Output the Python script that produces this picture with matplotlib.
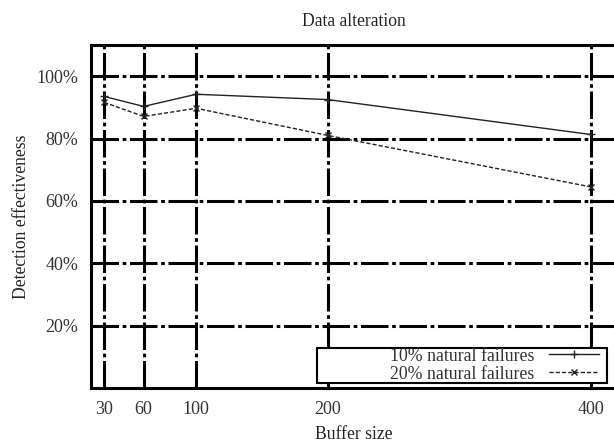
import matplotlib.pyplot as plt
from matplotlib.patches import Rectangle

plt.rcParams['font.family'] = ['Liberation Serif', 'DejaVu Serif']

buffer_size = [30, 60, 100, 200, 400]
fail_10 = [93.5, 90.3, 94.2, 92.5, 81.3]
fail_20 = [91.6, 87.1, 89.7, 81.0, 64.5]
y_ticks = [20, 40, 60, 80, 100]
y_labels = ['20%', '40%', '60%', '80%', '100%']

fig = plt.figure(figsize=(6.14, 4.44), dpi=100)
ax = fig.add_axes([91 / 614, 1 - 388 / 444, (617 - 91) / 614, (388 - 45) / 444])

grid_style = dict(color='black', linewidth=2.2, linestyle=(0, (9, 1.2, 1.2, 1.2)), zorder=1)
for x in buffer_size:
    ax.axvline(x, **grid_style)
for y in y_ticks:
    ax.axhline(y, **grid_style)

ax.plot(buffer_size, fail_10, color='#222222', linewidth=1.0, marker='+',
        markersize=6, label='10% natural failures', zorder=3)
ax.plot(buffer_size, fail_20, color='#222222', linewidth=1.0, linestyle=(0, (3, 1.5)),
        marker='x', markersize=5, label='20% natural failures', zorder=3)

ax.set_xlim(20, 420)
ax.set_ylim(0, 110)
ax.set_xticks(buffer_size)
ax.set_yticks(y_ticks)
ax.set_yticklabels(y_labels)
ax.tick_params(direction='in', length=0, labelsize=13, colors='#333333', pad=9)
for s in ax.spines.values():
    s.set_linewidth(2.2)

ax.set_title('Data alteration', fontsize=12.7, color='#222222', pad=14)
ax.set_xlabel('Buffer size', fontsize=12.7, color='#222222', labelpad=6)
ax.set_ylabel('Detection effectiveness', fontsize=12.7, color='#222222', labelpad=5)

# gnuplot style key box, wider than its contents
box = Rectangle((0.4297, 0.0146), 0.5513, 0.102, transform=ax.transAxes,
                facecolor='white', edgecolor='black', linewidth=1.5, zorder=4)
ax.add_patch(box)
leg = ax.legend(loc='lower right', bbox_to_anchor=(0.965, 0.016), fontsize=12.8,
                markerfirst=False, frameon=False, borderpad=0, labelspacing=0.05,
                handlelength=2.8, handletextpad=0.8, borderaxespad=0)
for t in leg.get_texts():
    t.set_color('#333333')
leg.set_zorder(5)

fig.savefig('out.png', dpi=100)
